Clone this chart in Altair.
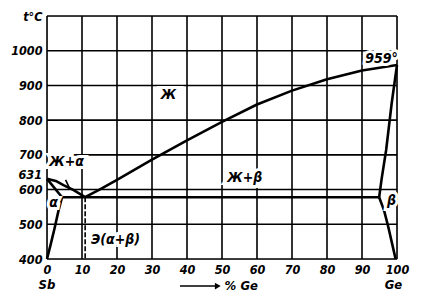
import altair as alt
import pandas as pd

FONT = "DejaVu Sans Condensed"

# grid
x_grid = [0, 10, 20, 30, 40, 50, 60, 70, 80, 90, 100]
y_grid = [400, 500, 600, 700, 800, 900, 1000, 1100]
y_ticks = [400, 500, 600, 700, 800, 900, 1000, 1100]
mp_sb = 631  # melting point of Sb, labelled on the axis

# phase boundaries (x = % Ge, t = °C)
liq_b_x = [10.9, 15, 20, 30, 40, 50, 60, 70, 80, 90, 100]
liq_b_t = [578, 600, 628, 686, 742, 795, 845, 885, 918, 943, 959]
liq_a_x = [0, 2.5, 4.7, 7.5, 10.9]
liq_a_t = [631, 625, 613, 599, 578]
sol_a_x = [0, 4.3]
sol_a_t = [631, 578]
solv_a_x = [4.3, 3.3, 2.2, 1.0, 0]
solv_a_t = [578, 540, 490, 440, 400]
eut_x = [4.3, 94.9]
eut_t = [578, 578]
sol_b_x = [100, 98.5, 96.9, 95.6, 94.9]
sol_b_t = [959, 850, 714, 630, 578]
solv_b_x = [94.9, 96.3, 97.5, 98.7, 99.6]
solv_b_t = [578, 540, 493, 440, 400]
lead_x = [5.3, 6.4]
lead_t = [628, 605]
dash_x = [10.9, 10.9]
dash_t = [578, 400]

# region labels
lab_text = ["Ж", "Ж+β", "Ж+α", "α", "β", "959°", "Э(α+β)"]
lab_x = [34.7, 56.5, 5.6, 1.9, 98.4, 95.6, 19.6]
lab_t = [873, 633, 680, 562, 568, 975, 455]

segs = []
for name, xs, ts in [
    ("liq_b", liq_b_x, liq_b_t), ("liq_a", liq_a_x, liq_a_t),
    ("sol_a", sol_a_x, sol_a_t), ("solv_a", solv_a_x, solv_a_t),
    ("eut", eut_x, eut_t), ("sol_b", sol_b_x, sol_b_t),
    ("solv_b", solv_b_x, solv_b_t),
]:
    for i, (a, b) in enumerate(zip(xs, ts)):
        segs.append({"seg": name, "i": i, "x": a, "t": b})
seg_df = pd.DataFrame(segs)

X = alt.Scale(domain=[0, 100], nice=False, zero=False)
Y = alt.Scale(domain=[400, 1100], nice=False, zero=False)

XA = alt.Axis(values=x_grid, grid=False, domain=False, ticks=False, title=None, format="d",
              labelPadding=4, labelFlush=False, labelOverlap=False)
YA = alt.Axis(values=y_ticks, grid=False, domain=False, ticks=False, title=None, format="d",
              labelPadding=5, labelFlush=False, labelOverlap=False,
              labelExpr="datum.value == 1100 ? 't°C' : datum.label")


def xq(f="x"):
    return alt.X(f"{f}:Q", scale=X, axis=XA)


def yq(f="t"):
    return alt.Y(f"{f}:Q", scale=Y, axis=YA)


vgrid = alt.Chart(pd.DataFrame({"x": x_grid})).mark_rule(color="black", strokeWidth=1.6).encode(
    x=xq(), y=alt.Y(datum=400, scale=Y, axis=YA), y2=alt.datum(1100),
)
hgrid = alt.Chart(pd.DataFrame({"t": y_grid})).mark_rule(color="black", strokeWidth=1.6).encode(
    y=yq(), x=alt.X(datum=0, scale=X, axis=XA), x2=alt.datum(100),
)

curves = alt.Chart(seg_df).mark_line(color="black", strokeWidth=2.6, strokeJoin="round").encode(
    x=xq(), y=yq(), detail="seg:N", order="i:Q",
)
lead = alt.Chart(pd.DataFrame({"x": lead_x, "t": lead_t})).mark_line(color="black", strokeWidth=1.6).encode(
    x=xq(), y=yq())
dash = alt.Chart(pd.DataFrame({"x": dash_x, "t": dash_t})).mark_line(
    color="black", strokeWidth=1.6, strokeDash=[5, 2]).encode(x=xq(), y=yq())

lab_df = pd.DataFrame({"text": lab_text, "x": lab_x, "t": lab_t})
halo = alt.Chart(lab_df).mark_text(font=FONT, fontSize=14, fontWeight="bold", fontStyle="italic",
                                   color="white", stroke="white", strokeWidth=6).encode(
    x=xq(), y=yq(), text="text:N")
labels = alt.Chart(lab_df).mark_text(font=FONT, fontSize=14, fontWeight="bold", fontStyle="italic",
                                     color="black").encode(
    x=xq(), y=yq(), text="text:N")

# 631 label beside the axis (nudged up a little so it clears the 600 label)
mp_lab = alt.Chart(pd.DataFrame({"text": [str(mp_sb)], "x": [0], "t": [mp_sb]})).mark_text(
    font=FONT, fontSize=12.5, fontWeight="bold", fontStyle="italic", color="black",
    align="right", dx=-5, dy=-4).encode(x=xq(), y=yq(), text="text:N")

# below-axis annotations
ann_text = ["Sb", "Ge", "% Ge"]
ann_x = [0, 99, 55.5]
ann_t = [325, 325, 322]
ann = alt.Chart(pd.DataFrame({"text": ann_text, "x": ann_x, "t": ann_t})).mark_text(
    font=FONT, fontSize=13, fontWeight="bold", fontStyle="italic", color="black").encode(
    x=xq(), y=yq(), text="text:N")
arrow = alt.Chart(pd.DataFrame({"x": [38.0], "x2": [48.5], "t": [322]})).mark_rule(
    color="black", strokeWidth=1.5).encode(x=xq(), x2="x2:Q", y=yq())
head = alt.Chart(pd.DataFrame({"x": [48.8], "t": [322]})).mark_point(
    shape="triangle-right", filled=True, color="black", size=45, opacity=1).encode(
    x=xq(), y=yq())

chart = alt.layer(vgrid, hgrid, curves, lead, dash, halo, labels, mp_lab, ann, arrow, head).properties(
    width=350, height=243,
    autosize=alt.AutoSizeParams(type="none"),
    padding={"left": 47, "top": 16, "right": 28, "bottom": 45},
).configure_view(stroke="black", strokeWidth=2.2).configure(background="white").configure_axis(
    labelFont=FONT, labelFontSize=12.5, labelFontWeight="bold", labelFontStyle="italic",
    labelColor="black", labelOverlap=False,
)

chart.save("out.html", embed_options={"renderer": "svg", "actions": False})
